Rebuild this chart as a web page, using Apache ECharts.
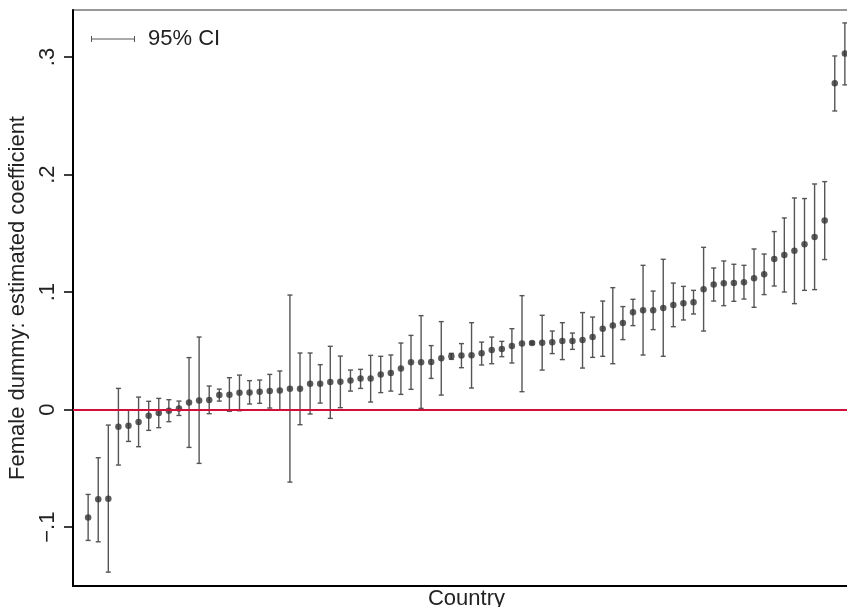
<!DOCTYPE html>
<html>
<head>
<meta charset="utf-8">
<script src="https://cdn.jsdelivr.net/npm/echarts@6/dist/echarts.min.js"></script>
<style>html,body{margin:0;padding:0;background:#fff}#chart{width:847px;height:607px}</style>
</head>
<body>
<div id="chart"></div>
<script>
// Country positions (sorted by coefficient)
const countryIndex = [];
for (let i = 1; i <= 76; i++) countryIndex.push(i);

// Estimated coefficients of the female dummy
const coef = [-0.0917, -0.0763, -0.0758, -0.0145, -0.0136, -0.0105, -0.0051, -0.0029, -0.0009, 0.0011,
  0.0060, 0.0079, 0.0082, 0.0124, 0.0128, 0.0145, 0.0147, 0.0153, 0.0158, 0.0164,
  0.0179, 0.0179, 0.0221, 0.0221, 0.0235, 0.0238, 0.0249, 0.0266, 0.0266, 0.0300,
  0.0311, 0.0351, 0.0403, 0.0403, 0.0405, 0.0437, 0.0454, 0.0460, 0.0462, 0.0479,
  0.0507, 0.0516, 0.0541, 0.0562, 0.0567, 0.0570, 0.0573, 0.0584, 0.0584, 0.0592,
  0.0618, 0.0689, 0.0715, 0.0737, 0.0828, 0.0845, 0.0845, 0.0865, 0.0890, 0.0905,
  0.0913, 0.1024, 0.1064, 0.1075, 0.1077, 0.1083, 0.1117, 0.1151, 0.1282, 0.1316,
  0.1353, 0.1407, 0.1469, 0.1609, 0.2777, 0.3030];

// Upper bound of 95% CI
const ciHigh = [-0.0721, -0.0409, -0.0131, 0.0181, -0.0003, 0.0107, 0.0071, 0.0096, 0.0085, 0.0073,
  0.0443, 0.0618, 0.0201, 0.0175, 0.0272, 0.0294, 0.0247, 0.0252, 0.0300, 0.0329,
  0.0975, 0.0482, 0.0482, 0.0383, 0.0539, 0.0456, 0.0337, 0.0343, 0.0462, 0.0454,
  0.0465, 0.0567, 0.0632, 0.0800, 0.0545, 0.0749, 0.0479, 0.0562, 0.0740, 0.0575,
  0.0618, 0.0581, 0.0689, 0.0970, 0.0577, 0.0803, 0.0669, 0.0740, 0.0652, 0.0826,
  0.0788, 0.0924, 0.1038, 0.0877, 0.0939, 0.1228, 0.1009, 0.1279, 0.1077, 0.1049,
  0.1015, 0.1381, 0.1205, 0.1265, 0.1237, 0.1228, 0.1367, 0.1324, 0.1515, 0.1631,
  0.1801, 0.1796, 0.1920, 0.1940, 0.3009, 0.3290];

// Lower bound of 95% CI
const ciLow = [-0.1112, -0.1124, -0.1382, -0.0471, -0.0270, -0.0315, -0.0176, -0.0153, -0.0102, -0.0049,
  -0.0321, -0.0457, -0.0034, 0.0073, -0.0014, -0.0009, 0.0048, 0.0054, 0.0014, -0.0003,
  -0.0616, -0.0128, -0.0037, 0.0056, -0.0074, 0.0017, 0.0158, 0.0181, 0.0065, 0.0145,
  0.0158, 0.0130, 0.0173, 0.0011, 0.0266, 0.0124, 0.0428, 0.0357, 0.0184, 0.0380,
  0.0391, 0.0451, 0.0397, 0.0153, 0.0557, 0.0337, 0.0477, 0.0426, 0.0513, 0.0354,
  0.0445, 0.0454, 0.0391, 0.0596, 0.0715, 0.0465, 0.0681, 0.0454, 0.0706, 0.0763,
  0.0814, 0.0669, 0.0924, 0.0885, 0.0922, 0.0941, 0.0871, 0.0979, 0.1052, 0.1001,
  0.0902, 0.1015, 0.1021, 0.1277, 0.2541, 0.2763];

const yTickValues = [-0.1, 0, 0.1, 0.2, 0.3];
const yTickLabels = ['\u2212.1', '0', '.1', '.2', '.3'];

const FONT = '"Liberation Sans", Arial, Helvetica, sans-serif';

const ciData = countryIndex.map((c, i) => [c, ciLow[i], ciHigh[i]]);
const pointData = countryIndex.map((c, i) => [c, coef[i]]);

const chart = echarts.init(document.getElementById('chart'), null, {renderer: 'canvas'});

const option = {
  animation: false,
  backgroundColor: '#fff',
  grid: {
    left: 73, top: 10, width: 787, height: 576,
    outerBoundsMode: 'none', containLabel: false,
    show: true, borderColor: '#333', borderWidth: 1.2, backgroundColor: 'transparent'
  },
  legend: {
    left: 86, top: 23,
    itemWidth: 44, itemHeight: 6, itemGap: 10,
    data: [{name: '95% CI', icon: 'path://M0,0 h1 v6 h-1 z M0,2.6 h44 v0.9 h-44 z M43,0 h1 v6 h-1 z'}],
    textStyle: {fontFamily: FONT, fontSize: 22, color: '#222', padding: [0, 0, 0, 8]}
  },
  xAxis: {
    type: 'value', min: -0.5, max: 77.5,
    name: 'Country', nameLocation: 'middle', nameGap: 2,
    nameTextStyle: {fontFamily: FONT, fontSize: 22, color: '#222', verticalAlign: 'top'},
    axisLine: {show: true, onZero: false, lineStyle: {color: '#000', width: 2}},
    axisTick: {show: false}, axisLabel: {show: false}, splitLine: {show: false}
  },
  yAxis: {
    type: 'value', min: -0.15, max: 0.34,
    name: 'Female dummy: estimated coefficient', nameLocation: 'middle', nameGap: 42, nameRotate: 90,
    nameTextStyle: {fontFamily: FONT, fontSize: 22, color: '#222'},
    axisLine: {show: true, onZero: false, lineStyle: {color: '#000', width: 2}},
    axisTick: {show: true, length: 9, customValues: yTickValues, lineStyle: {color: '#000', width: 1.5}},
    axisLabel: {
      show: true, rotate: 90, margin: 14, customValues: yTickValues,
      fontFamily: FONT, fontSize: 22, color: '#222',
      formatter: function (v) {
        const k = yTickValues.findIndex(t => Math.abs(t - v) < 1e-9);
        return k >= 0 ? yTickLabels[k] : '';
      }
    },
    splitLine: {show: false}
  },
  series: [
    {
      name: '95% CI', type: 'custom', data: ciData,
      encode: {x: 0, y: [1, 2]},
      itemStyle: {color: '#555'},
      renderItem: function (params, api) {
        const x = api.value(0);
        const pHi = api.coord([x, api.value(2)]);
        const pLo = api.coord([x, api.value(1)]);
        const w = 2.5;
        const st = {stroke: '#555', lineWidth: 1.4};
        return {
          type: 'group',
          children: [
            {type: 'line', shape: {x1: pHi[0], y1: pHi[1], x2: pLo[0], y2: pLo[1]}, style: st},
            {type: 'line', shape: {x1: pHi[0] - w, y1: pHi[1], x2: pHi[0] + w, y2: pHi[1]}, style: st},
            {type: 'line', shape: {x1: pLo[0] - w, y1: pLo[1], x2: pLo[0] + w, y2: pLo[1]}, style: st}
          ]
        };
      },
      z: 2
    },
    {
      name: 'Coefficient', type: 'scatter', data: pointData,
      symbol: 'circle', symbolSize: 6.5,
      itemStyle: {color: '#333'},
      z: 3,
      markLine: {
        silent: true, symbol: ['none', 'none'],
        label: {show: false},
        lineStyle: {color: '#d0103a', width: 2, type: 'solid'},
        data: [{yAxis: 0}]
      }
    }
  ]
};
chart.setOption(option);
</script>
</body>
</html>
